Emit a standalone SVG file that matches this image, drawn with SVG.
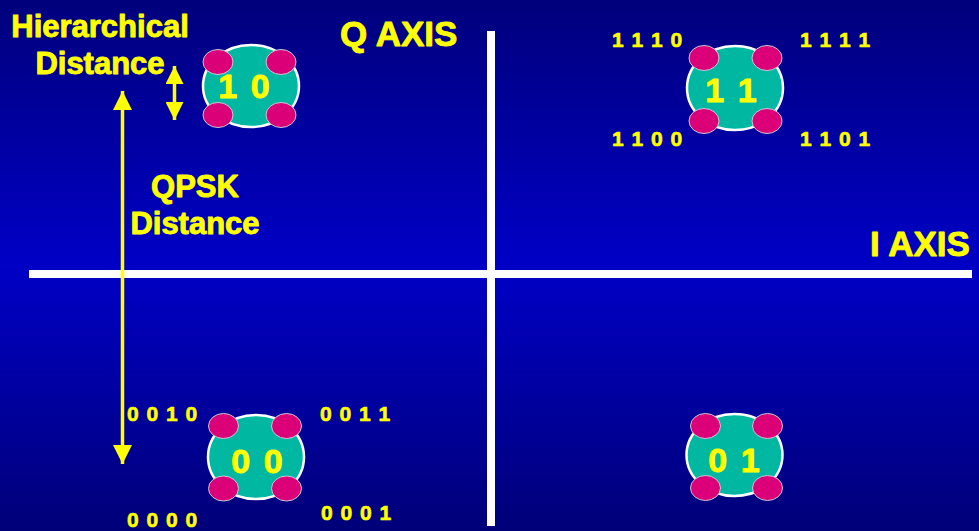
<svg xmlns="http://www.w3.org/2000/svg" width="979" height="531" viewBox="0 0 979 531">
<defs>
<linearGradient id="bg" x1="0" y1="0" x2="0" y2="1">
<stop offset="0" stop-color="#00007C"/>
<stop offset="0.5" stop-color="#0000C6"/>
<stop offset="1" stop-color="#000078"/>
</linearGradient>
<marker id="ah" viewBox="0 0 10 10" refX="10" refY="5" markerWidth="19" markerHeight="19" markerUnits="userSpaceOnUse" orient="auto-start-reverse">
<path d="M0,0 L10,5 L0,10 Z" fill="#FFFF00"/>
</marker>
<marker id="ahs" viewBox="0 0 10 10" refX="10" refY="5" markerWidth="18" markerHeight="18" markerUnits="userSpaceOnUse" orient="auto-start-reverse">
<path d="M0,0 L10,5 L0,10 Z" fill="#FFFF00"/>
</marker>
</defs>
<style>
.t{font-family:"Liberation Sans",Arial,sans-serif;font-weight:700;fill:#FFFF00;stroke:#FFFF00;stroke-width:0.9px;stroke-linejoin:round}
.big{font-size:35px}
.lab{font-size:31px}
.code{font-size:21px;letter-spacing:1px;stroke-width:0.6px}
.num{font-size:34px;letter-spacing:2px}
.main{fill:#00B8A2;stroke:#FFFFFF;stroke-width:2.5}
.pk{fill:#DC0078;stroke:#C8C8D8;stroke-width:1}
.ax{stroke:#FFFFFF;stroke-width:8;fill:none}
.ar{stroke:#FFFF00;stroke-width:3.5;fill:none}
</style>
<rect width="979" height="531" fill="url(#bg)"/>
<g id="connectors">
<line class="ax" x1="29" y1="274" x2="972" y2="274"/>
<line class="ax" x1="491" y1="31" x2="491" y2="526"/>
<line class="ar" x1="122.5" y1="91" x2="122.5" y2="464" marker-start="url(#ah)" marker-end="url(#ah)"/>
<line class="ar" x1="174.5" y1="66" x2="174.5" y2="120" marker-start="url(#ahs)" marker-end="url(#ahs)"/>
</g>
<g id="labels">
<text class="t big" x="340" y="46">Q AXIS</text>
<text class="t big" x="870" y="256">I AXIS</text>
<text class="t lab" x="100" y="37" text-anchor="middle">Hierarchical</text>
<text class="t lab" x="100" y="74" text-anchor="middle">Distance</text>
<text class="t lab" x="195" y="197" text-anchor="middle">QPSK</text>
<text class="t lab" x="195" y="234" text-anchor="middle">Distance</text>
<text class="t code" x="612" y="47">1 1 1 0</text>
<text class="t code" x="800" y="47">1 1 1 1</text>
<text class="t code" x="612" y="146">1 1 0 0</text>
<text class="t code" x="800" y="146">1 1 0 1</text>
<text class="t code" x="127" y="421">0 0 1 0</text>
<text class="t code" x="320" y="421">0 0 1 1</text>
<text class="t code" x="127" y="527">0 0 0 0</text>
<text class="t code" x="321" y="520">0 0 0 1</text>
</g>
<g id="node10">
<ellipse class="main" cx="251" cy="86" rx="48" ry="41"/>
<ellipse class="pk" cx="218" cy="62" rx="15" ry="12.5"/>
<ellipse class="pk" cx="281" cy="62" rx="15" ry="12.5"/>
<ellipse class="pk" cx="218" cy="115" rx="15" ry="12.5"/>
<ellipse class="pk" cx="281" cy="115" rx="15" ry="12.5"/>
<text class="t num" x="245" y="98" text-anchor="middle">1 0</text>
</g>
<g id="node11">
<ellipse class="main" cx="735" cy="88" rx="48" ry="42"/>
<ellipse class="pk" cx="704" cy="58" rx="15" ry="12.5"/>
<ellipse class="pk" cx="767" cy="58" rx="15" ry="12.5"/>
<ellipse class="pk" cx="704" cy="121" rx="15" ry="12.5"/>
<ellipse class="pk" cx="767" cy="121" rx="15" ry="12.5"/>
<text class="t num" x="732" y="102" text-anchor="middle">1 1</text>
</g>
<g id="node00">
<ellipse class="main" cx="256" cy="457" rx="48" ry="42"/>
<ellipse class="pk" cx="223.5" cy="426" rx="15" ry="12.5"/>
<ellipse class="pk" cx="286.5" cy="426" rx="15" ry="12.5"/>
<ellipse class="pk" cx="223.5" cy="488.5" rx="15" ry="12.5"/>
<ellipse class="pk" cx="286.5" cy="488.5" rx="15" ry="12.5"/>
<text class="t num" x="258" y="473" text-anchor="middle">0 0</text>
</g>
<g id="node01">
<ellipse class="main" cx="734.5" cy="455" rx="48" ry="41"/>
<ellipse class="pk" cx="705.5" cy="426" rx="15" ry="12.5"/>
<ellipse class="pk" cx="767.5" cy="426" rx="15" ry="12.5"/>
<ellipse class="pk" cx="705.5" cy="488" rx="15" ry="12.5"/>
<ellipse class="pk" cx="767.5" cy="488" rx="15" ry="12.5"/>
<text class="t num" x="735" y="472" text-anchor="middle">0 1</text>
</g>
</svg>
